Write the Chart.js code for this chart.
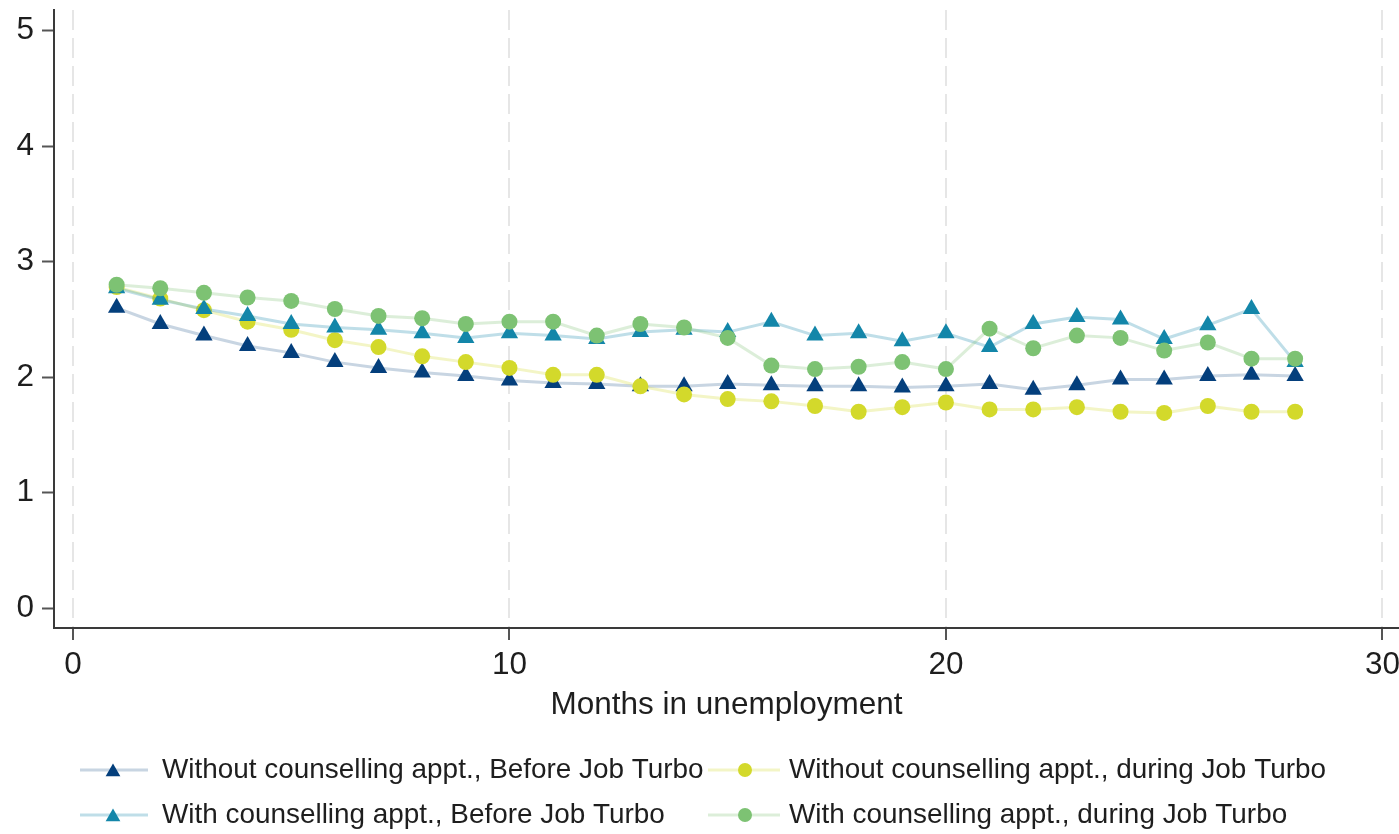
<!DOCTYPE html>
<html>
<head>
<meta charset="utf-8">
<script src="https://cdn.jsdelivr.net/npm/chart.js@4/dist/chart.umd.min.js"></script>
<style>
  html, body { margin: 0; padding: 0; background: #fff; }
  canvas { display: block; }
</style>
</head>
<body>
<canvas id="c" width="1399" height="834"></canvas>
<script>
// Months since entering unemployment
const months = [1, 2, 3, 4, 5, 6, 7, 8, 9, 10, 11, 12, 13, 14, 15, 16, 17, 18, 19, 20, 21, 22, 23, 24, 25, 26, 27, 28];

// Series values per month
const withoutBefore = [2.60, 2.46, 2.36, 2.27, 2.21, 2.13, 2.08, 2.04, 2.01, 1.97, 1.95, 1.94, 1.92, 1.92, 1.94, 1.93, 1.92, 1.92, 1.91, 1.92, 1.94, 1.89, 1.93, 1.98, 1.98, 2.01, 2.02, 2.01];
const withBefore    = [2.77, 2.67, 2.59, 2.53, 2.46, 2.43, 2.41, 2.38, 2.34, 2.38, 2.36, 2.33, 2.39, 2.41, 2.39, 2.48, 2.36, 2.38, 2.31, 2.38, 2.26, 2.46, 2.52, 2.50, 2.33, 2.45, 2.59, 2.13];
const withoutDuring = [2.78, 2.68, 2.58, 2.48, 2.41, 2.32, 2.26, 2.18, 2.13, 2.08, 2.02, 2.02, 1.92, 1.85, 1.81, 1.79, 1.75, 1.70, 1.74, 1.78, 1.72, 1.72, 1.74, 1.70, 1.69, 1.75, 1.70, 1.70];
const withDuring    = [2.80, 2.77, 2.73, 2.69, 2.66, 2.59, 2.53, 2.51, 2.46, 2.48, 2.48, 2.36, 2.46, 2.43, 2.34, 2.10, 2.07, 2.09, 2.13, 2.07, 2.42, 2.25, 2.36, 2.34, 2.23, 2.30, 2.16, 2.16];

// Tick labels
const xTicks = [0, 10, 20, 30];
const yTicks = [0, 1, 2, 3, 4, 5];

const seriesNames = [
  'Without counselling appt., Before Job Turbo',
  'Without counselling appt., during Job Turbo',
  'With counselling appt., Before Job Turbo',
  'With counselling appt., during Job Turbo'
];

const FONT = '"Liberation Sans", Arial, sans-serif';

function series(values, label, color, lineColor, style, radius, order) {
  return {
    label,
    data: months.map((m, i) => ({ x: m, y: values[i] })),
    borderColor: lineColor,
    backgroundColor: color,
    pointBackgroundColor: color,
    pointBorderColor: color,
    pointBorderWidth: 0,
    pointStyle: style,
    pointRadius: radius,
    pointHoverRadius: radius,
    borderWidth: 3,
    tension: 0,
    order
  };
}

const datasets = [
  series(withoutBefore, seriesNames[0], '#043f7c', 'rgba(4,63,124,0.22)', 'triangle', 10, 4),
  series(withoutDuring, seriesNames[1], '#d3d92b', 'rgba(211,217,43,0.27)', 'circle', 8, 3),
  series(withBefore,    seriesNames[2], '#1386a9', 'rgba(19,134,169,0.27)', 'triangle', 10, 2),
  series(withDuring,    seriesNames[3], '#7dc273', 'rgba(125,194,115,0.27)', 'circle', 8, 1)
];

// Two-column legend below the axis title
const legendLayout = [
  { col: 0, row: 0 }, { col: 1, row: 0 }, { col: 0, row: 1 }, { col: 1, row: 1 }
];
const legendCols = [
  { lineFrom: 80, lineTo: 148, marker: 113, text: 162 },
  { lineFrom: 708, lineTo: 780, marker: 745, text: 789 }
];
const legendRows = [770, 815];

const legendPlugin = {
  id: 'gridLegend',
  afterDraw(chart) {
    const ctx = chart.ctx;
    ctx.save();
    chart.data.datasets.forEach((ds, i) => {
      const pos = legendLayout[i];
      const c = legendCols[pos.col];
      const y = legendRows[pos.row];
      ctx.strokeStyle = ds.borderColor;
      ctx.lineWidth = 3;
      ctx.beginPath();
      ctx.moveTo(c.lineFrom, y);
      ctx.lineTo(c.lineTo, y);
      ctx.stroke();
      ctx.fillStyle = ds.pointBackgroundColor;
      ctx.strokeStyle = ds.pointBackgroundColor;
      Chart.helpers.drawPoint(ctx, {
        pointStyle: ds.pointStyle,
        radius: ds.pointStyle === 'triangle' ? 8.5 : 7,
        borderWidth: 0,
        rotation: 0
      }, c.marker, ds.pointStyle === 'triangle' ? y + 2 : y);
      ctx.fillStyle = '#1e1e1e';
      ctx.font = '27.9px ' + FONT;
      ctx.textAlign = 'left';
      ctx.textBaseline = 'middle';
      ctx.fillText(ds.label, c.text, y);
    });
    ctx.restore();
  }
};

new Chart(document.getElementById('c'), {
  type: 'line',
  data: { datasets },
  plugins: [legendPlugin],
  options: {
    responsive: false,
    devicePixelRatio: 1,
    animation: false,
    events: [],
    layout: { autoPadding: false, padding: { top: 10, right: 0, bottom: 106, left: 0 } },
    plugins: { legend: { display: false }, tooltip: { enabled: false } },
    scales: {
      x: {
        type: 'linear',
        min: -0.435,
        max: 30.38,
        afterBuildTicks: s => { s.ticks = xTicks.map(v => ({ value: v })); },
        afterFit: s => { s.height = 100; s.paddingLeft = 0; s.paddingRight = 0; },
        border: { display: true, color: '#3a3a3a', width: 2, dash: [20, 8] },
        grid: {
          display: true,
          drawOnChartArea: true,
          color: '#e6e6e6',
          lineWidth: 2,
          drawTicks: true,
          tickLength: 12,
          tickColor: '#555',
          tickWidth: 2,
          tickBorderDash: []
        },
        ticks: {
          color: '#1e1e1e',
          font: { family: FONT, size: 31.5 },
          padding: 6,
          maxRotation: 0,
          autoSkip: false
        },
        title: {
          display: true,
          text: 'Months in unemployment',
          color: '#1e1e1e',
          font: { family: FONT, size: 31.5 },
          padding: { top: 0, bottom: 4 }
        }
      },
      y: {
        type: 'linear',
        min: -0.173,
        max: 5.18,
        afterBuildTicks: s => { s.ticks = yTicks.map(v => ({ value: v })); },
        afterFit: s => { s.width = 54; s.paddingTop = 0; s.paddingBottom = 0; },
        border: { display: true, color: '#3a3a3a', width: 2 },
        grid: {
          display: true,
          drawOnChartArea: false,
          drawTicks: true,
          tickLength: 12,
          tickColor: '#555',
          tickWidth: 2
        },
        ticks: {
          color: '#1e1e1e',
          font: { family: FONT, size: 31.5 },
          padding: 8
        }
      }
    }
  }
});
</script>
</body>
</html>
